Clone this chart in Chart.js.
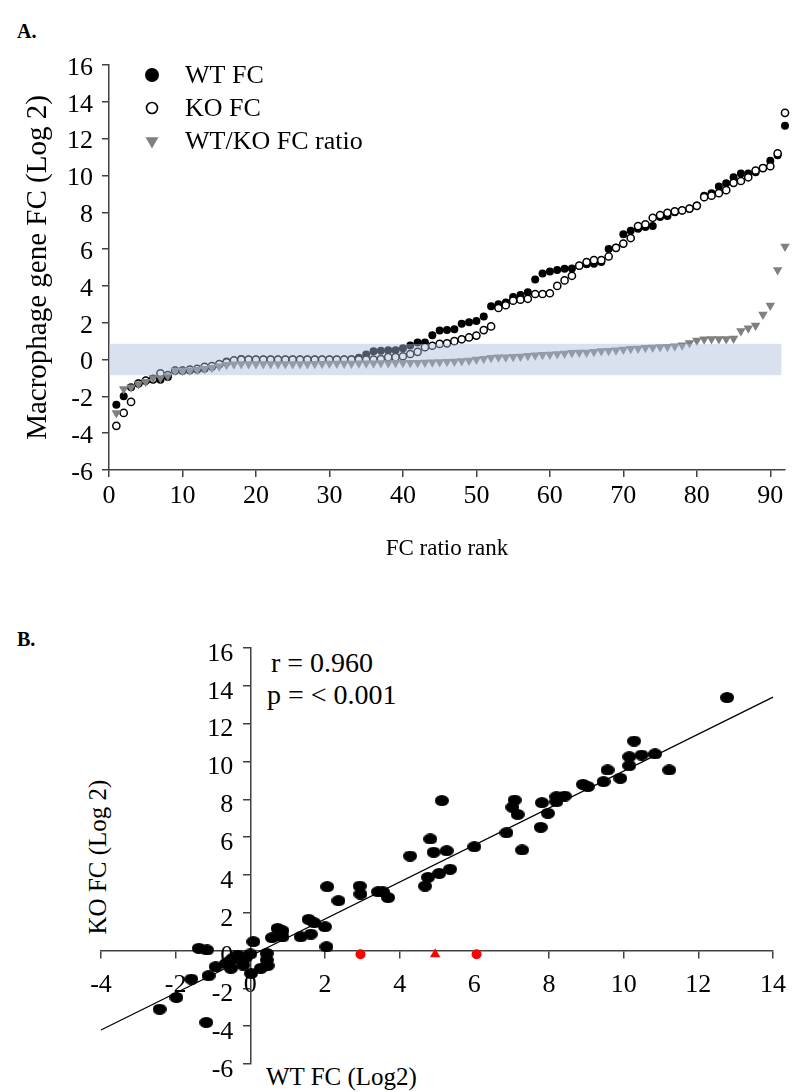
<!DOCTYPE html>
<html>
<head>
<meta charset="utf-8">
<script src="https://cdn.jsdelivr.net/npm/chart.js@4.4.1/dist/chart.umd.min.js"></script>
<style>
  body { margin: 0; background: #fff; width: 798px; height: 1092px; position: relative; overflow: hidden;
         font-family: "Liberation Serif", serif; color: #000; }
  canvas { position: absolute; left: 0; }
  #chartA { top: 0; }
  #chartB { top: 600px; }
  .lbl { position: absolute; white-space: nowrap; line-height: 1; }
</style>
</head>
<body>
<div class="lbl" style="left:17px;top:21px;font-weight:bold;font-size:20px">A.</div>
<div class="lbl" style="left:17px;top:629px;font-weight:bold;font-size:20px">B.</div>
<div class="lbl" style="left:271px;top:649px;font-size:28px">r = 0.960</div>
<div class="lbl" style="left:267px;top:681px;font-size:28px">p = &lt; 0.001</div>
<div class="lbl" style="left:266px;top:1064px;font-size:25px">WT FC (Log2)</div>
<div class="lbl" style="left:97px;top:857px;font-size:25px;transform:translate(-50%,-50%) rotate(-90deg)">KO FC (Log 2)</div>

<canvas id="chartA" width="798" height="600"></canvas>
<canvas id="chartB" width="798" height="492"></canvas>

<script>
// ---- panel A data (rank 1..92) ----
const ranks = Array.from({length: 92}, (_, i) => i + 1);
const wtFC = [
  -2.45, -2.0, -1.5, -1.3, -1.15, -1.1, -1.1, -0.95, -0.6, -0.6,
  -0.6, -0.55, -0.5, -0.4, -0.27, -0.1, -0.05, 0.03, 0.0, 0.0,
  0.0, 0.0, 0.0, 0.0, 0.0, 0.0, 0.0, 0.0, 0.0, 0.0,
  0.0, 0.0, 0.02, 0.1, 0.27, 0.45, 0.48, 0.5, 0.5, 0.62,
  0.76, 0.92, 0.93, 1.32, 1.58, 1.6, 1.65, 1.94, 2.03, 2.1,
  2.34, 2.9, 3.0, 3.1, 3.4, 3.5, 3.66, 4.35, 4.67, 4.78,
  4.87, 4.93, 4.95, 5.1, 5.17, 5.2, 5.3, 6.0, 6.07, 6.8,
  7.0, 7.1, 7.2, 7.25, 7.74, 7.8, 8.0, 8.1, 8.19, 8.37,
  8.9, 9.04, 9.4, 9.58, 9.9, 10.1, 10.1, 10.18, 10.4, 10.8,
  11.1, 12.7
];
const koFC = [
  -3.6, -2.9, -2.3, -1.3, -1.15, -1.05, -0.75, -0.85, -0.6, -0.6,
  -0.55, -0.5, -0.4, -0.35, -0.25, -0.15, -0.05, 0.0, 0.0, 0.0,
  0.0, 0.0, 0.0, 0.0, 0.0, 0.0, 0.0, 0.0, 0.0, 0.0,
  0.0, 0.0, 0.0, 0.0, 0.0, 0.0, 0.02, 0.13, 0.13, 0.18,
  0.3, 0.42, 0.67, 0.75, 0.85, 0.88, 1.0, 1.1, 1.2, 1.3,
  1.6, 1.8, 2.8, 2.95, 3.2, 3.25, 3.3, 3.56, 3.56, 3.6,
  4.0, 4.3, 4.55, 5.1, 5.3, 5.4, 5.4, 5.6, 6.07, 6.3,
  6.6, 7.25, 7.35, 7.7, 7.85, 7.97, 8.05, 8.1, 8.2, 8.35,
  8.82, 8.9, 9.04, 9.2, 9.6, 9.7, 9.9, 10.27, 10.4, 10.5,
  11.2, 13.4
];
const ratioFC = [
  -2.9, -1.6, -1.5, -1.33, -1.2, -1.0, -1.0, -0.9, -0.6, -0.6,
  -0.58, -0.55, -0.5, -0.45, -0.37, -0.28, -0.25, -0.24, -0.24, -0.24,
  -0.24, -0.24, -0.24, -0.24, -0.24, -0.24, -0.24, -0.23, -0.23, -0.22,
  -0.22, -0.21, -0.21, -0.2, -0.2, -0.2, -0.19, -0.19, -0.18, -0.18,
  -0.17, -0.17, -0.16, -0.15, -0.14, -0.12, -0.1, -0.08, -0.05, 0.0,
  0.05, 0.1, 0.12, 0.13, 0.15, 0.17, 0.2, 0.24, 0.26, 0.28,
  0.3, 0.33, 0.37, 0.38, 0.38, 0.42, 0.46, 0.48, 0.5, 0.55,
  0.58, 0.6, 0.64, 0.66, 0.68, 0.7, 0.72, 0.78, 0.9, 1.03,
  1.1, 1.12, 1.12, 1.12, 1.15, 1.55, 1.7, 1.85, 2.45, 2.94,
  4.87, 6.14
];
const bandRank = [0, 91.5];
const bandFC = [-0.85, 0.85];

// ---- panel B data ----
const wtB = [
  -2.43, -1.98, -1.58, -1.18, -1.12, -1.38, -1.16, -0.93, -0.65, -0.52,
  -0.47, -0.34, -0.55, -0.19, -0.12, 0.0, 0.02, 0.08, 0.28, 0.44,
  0.44, 0.46, 0.58, 0.73, 0.86, 0.86, 1.35, 1.56, 1.71, 1.62,
  2.0, 2.04, 2.06, 2.36, 2.93, 2.95, 3.42, 3.55, 3.69, 4.28,
  4.68, 4.76, 4.82, 4.91, 5.06, 5.26, 5.35, 5.13, 6.0, 6.86,
  7.02, 7.08, 7.16, 7.28, 7.78, 7.81, 7.97, 8.2, 8.2, 8.42,
  8.91, 9.04, 9.46, 9.57, 9.91, 10.15, 10.15, 10.28, 10.48, 10.84,
  11.22, 12.77
];
const koB = [
  -3.1, -2.48, -1.51, -3.8, -1.33, 0.12, 0.03, -0.86, -0.68, -0.94,
  -0.41, -0.24, -0.55, -0.77, -0.36, -0.18, -1.21, 0.47, -0.94, -0.15,
  -0.5, -0.8, 0.68, 1.17, 1.05, 0.72, 0.73, 1.65, 1.47, 0.87,
  1.26, 0.2, 3.38, 2.64, 3.41, 2.99, 3.11, 3.11, 2.8, 5.0,
  3.41, 3.87, 5.9, 5.2, 4.08, 5.28, 4.3, 7.93, 5.49, 6.23,
  7.58, 7.96, 7.2, 5.32, 6.52, 7.82, 7.26, 7.87, 8.14, 8.17,
  8.79, 8.67, 8.93, 9.55, 9.11, 9.78, 10.25, 11.08, 10.34, 10.4,
  9.55, 13.38
];
const redCircleWT = [2.95, 6.06];
const redCircleKO = [-0.2, -0.2];
const redTriWT = [4.95];
const redTriKO = [-0.2];
const fitWT = [-4, 14];
const fitKO = [-4.2, 13.4];

const FONT = 'Liberation Serif';
const AXIS = '#404040';
const toXY = (xs, ys) => xs.map((x, i) => ({x: x, y: ys[i]}));

function ellipseMark(w, h, color) {
  const c = document.createElement('canvas');
  c.width = w; c.height = h;
  const g = c.getContext('2d');
  g.fillStyle = color;
  g.beginPath();
  g.ellipse(w / 2, h / 2, w / 2, h / 2, 0, 0, Math.PI * 2);
  g.fill();
  return c;
}

// shaded band, drawn over the points like the original
const bandPlugin = {
  id: 'band',
  afterDatasetsDraw(chart) {
    const {ctx, scales: {x, y}} = chart;
    const x0 = x.getPixelForValue(bandRank[0]), x1 = x.getPixelForValue(bandRank[1]);
    const y0 = y.getPixelForValue(bandFC[1]), y1 = y.getPixelForValue(bandFC[0]);
    ctx.save();
    ctx.fillStyle = 'rgba(168,188,214,0.45)';
    ctx.fillRect(x0, y0, x1 - x0, y1 - y0);
    ctx.restore();
  }
};

// legend in the upper left of the plot
const legendA = {
  id: 'legendA',
  afterDraw(chart) {
    const ctx = chart.ctx;
    const marks = [
      {pointStyle: 'circle', radius: 7, rotation: 0, borderWidth: 0},
      {pointStyle: 'circle', radius: 5.5, rotation: 0, borderWidth: 1.6},
      {pointStyle: 'triangle', radius: 7.5, rotation: 180, borderWidth: 0}
    ];
    ctx.save();
    chart.data.datasets.forEach((ds, i) => {
      const y = 75 + i * 33;
      ctx.fillStyle = ds.backgroundColor;
      ctx.strokeStyle = ds.borderColor;
      ctx.lineWidth = marks[i].borderWidth;
      Chart.helpers.drawPoint(ctx, marks[i], 152, y);
      ctx.fillStyle = '#000';
      ctx.font = '26px "' + FONT + '"';
      ctx.textBaseline = 'middle';
      ctx.fillText(ds.label, 185, y + 1);
    });
    ctx.restore();
  }
};

// y labels of an axis placed at x = 0 get no padding in Chart.js; move them off the axis
const yLabelShift = {
  id: 'yLabelShift',
  beforeDraw(chart) {
    const items = chart.scales.y.getLabelItems();
    if (items._shifted) return;
    items.forEach(it => { it.options.translation[0] -= 17; });
    items._shifted = true;
  }
};

const tickFont = {family: FONT, size: 26};

new Chart(document.getElementById('chartA'), {
  type: 'scatter',
  data: {
    datasets: [
      {label: 'WT FC', data: toXY(ranks, wtFC), pointStyle: 'circle', pointRadius: 4,
       backgroundColor: '#000', borderColor: '#000', borderWidth: 0, order: 3, clip: false},
      {label: 'KO FC', data: toXY(ranks, koFC), pointStyle: 'circle', pointRadius: 3.6,
       backgroundColor: '#fff', borderColor: '#000', borderWidth: 1.5, order: 2, clip: false},
      {label: 'WT/KO FC ratio', data: toXY(ranks, ratioFC), pointStyle: 'triangle', pointRadius: 5.5,
       pointRotation: 180, backgroundColor: '#808080', borderColor: '#808080', borderWidth: 0, order: 1, clip: false}
    ]
  },
  options: {
    responsive: false,
    animation: false,
    devicePixelRatio: 1,
    layout: {padding: {left: 0, top: 65, right: 13, bottom: 37}},
    plugins: {legend: {display: false}, tooltip: {enabled: false}},
    scales: {
      x: {
        type: 'linear', min: 0, max: 92,
        afterFit(s) { s.height = 93; },
        ticks: {stepSize: 10, includeBounds: false, color: '#000', font: tickFont, padding: 4, maxRotation: 0},
        grid: {drawOnChartArea: false, tickLength: 7, color: AXIS, lineWidth: 1.5},
        border: {color: AXIS, width: 1.5},
        title: {display: true, text: 'FC ratio rank', color: '#000', font: {family: FONT, size: 23}, padding: 0}
      },
      y: {
        min: -6, max: 16,
        afterFit(s) { s.width = 109; },
        ticks: {stepSize: 2, color: '#000', font: tickFont, padding: 9, labelOffset: 3},
        grid: {drawOnChartArea: false, tickLength: 7, color: AXIS, lineWidth: 1.5},
        border: {color: AXIS, width: 1.5},
        title: {display: true, text: 'Macrophage gene FC (Log 2)', color: '#000',
                font: {family: FONT, size: 29}, padding: {top: 21, bottom: 0}}
      }
    }
  },
  plugins: [bandPlugin, legendA]
});

new Chart(document.getElementById('chartB'), {
  type: 'scatter',
  data: {
    datasets: [
      {label: 'fit', type: 'line', data: toXY(fitWT, fitKO), borderColor: '#000', borderWidth: 1.3,
       pointRadius: 0, fill: false, order: 0, clip: false},
      {label: 'genes', data: toXY(wtB, koB), pointStyle: ellipseMark(14, 11, '#000'),
       backgroundColor: '#000', borderColor: '#000', order: 2, clip: false},
      {label: 'red circles', data: toXY(redCircleWT, redCircleKO), pointStyle: 'circle', pointRadius: 5,
       backgroundColor: '#ff0000', borderColor: '#ff0000', borderWidth: 0, order: 1},
      {label: 'red triangle', data: toXY(redTriWT, redTriKO), pointStyle: 'triangle', pointRadius: 6,
       backgroundColor: '#ff0000', borderColor: '#ff0000', borderWidth: 0, order: 1}
    ]
  },
  options: {
    responsive: false,
    animation: false,
    devicePixelRatio: 1,
    layout: {padding: {left: 101, right: 22, top: 48, bottom: 28}},
    plugins: {legend: {display: false}, tooltip: {enabled: false}},
    scales: {
      x: {
        type: 'linear', position: {y: 0}, min: -4, max: 14,
        ticks: {stepSize: 2, color: '#000', font: tickFont, padding: 12, maxRotation: 0},
        grid: {drawOnChartArea: false, tickLength: 7, color: AXIS, lineWidth: 1.5},
        border: {color: AXIS, width: 1.5}
      },
      y: {
        type: 'linear', position: {x: 0}, min: -6, max: 16,
        ticks: {stepSize: 2, color: '#000', font: tickFont, padding: 10, labelOffset: 6},
        grid: {drawOnChartArea: false, tickLength: 7, color: AXIS, lineWidth: 1.5},
        border: {color: AXIS, width: 1.5}
      }
    }
  },
  plugins: [yLabelShift]
});
</script>
</body>
</html>
